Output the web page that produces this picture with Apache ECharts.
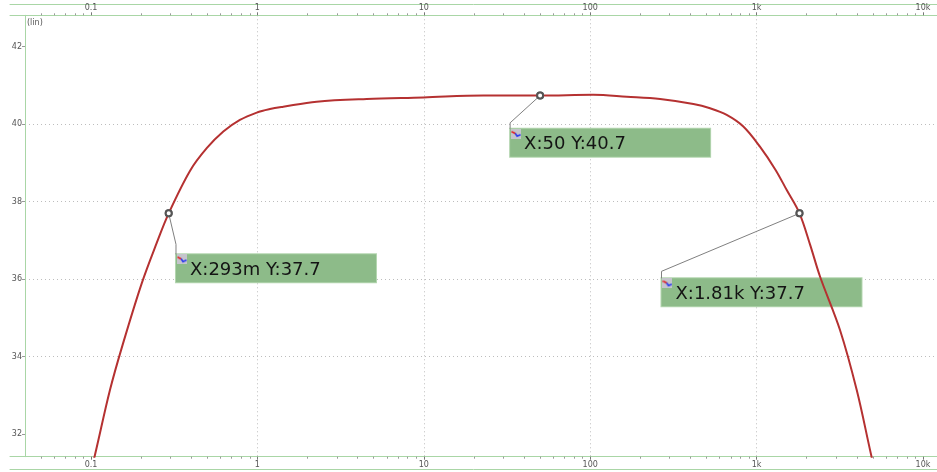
<!DOCTYPE html>
<html><head><meta charset="utf-8">
<script src="https://cdn.jsdelivr.net/npm/echarts@6/dist/echarts.min.js"></script>
<style>html,body{margin:0;padding:0;background:#fff}#c{width:937px;height:472px}</style>
</head><body><div id="c"></div>
<script>
// ---- data ----
const freq  = [0.1, 0.1057, 0.130, 0.156, 0.202, 0.248, 0.293, 0.394, 0.496, 0.624, 0.785, 0.991, 1.19, 1.43, 2.27, 4.54, 9.94, 22.8, 50, 104, 166, 263, 417, 525, 661, 832, 1047, 1300, 1517, 1810, 2100, 2404, 3170, 3996, 4806, 5200];
const level = [31.08, 31.47, 33.14, 34.35, 35.90, 36.93, 37.70, 38.80, 39.38, 39.81, 40.11, 40.30, 40.39, 40.45, 40.58, 40.65, 40.69, 40.74, 40.74, 40.76, 40.71, 40.65, 40.52, 40.41, 40.24, 39.94, 39.42, 38.82, 38.30, 37.70, 36.88, 36.07, 34.69, 33.14, 31.59, 30.93];

const annX = [0.293, 50, 1810];
const annY = [37.7, 40.74, 37.7];
const annText = ['X:293m Y:37.7', 'X:50 Y:40.7', 'X:1.81k Y:37.7'];

const decadeTicks  = [0.1, 1, 10, 100, 1000, 10000];
const decadeLabels = ['0.1', '1', '10', '100', '1k', '10k'];
const yMajorTicks  = [32, 34, 36, 38, 40, 42];

const xMin = Math.pow(10, -1.3966), xMax = Math.pow(10, 4.084);
const yMin = 31.42, yMax = 42.81;

// ---- layout / style ----
const annOffset = [[7.3, 41], [-30, 33.3], [-138, 65]];
const annElbow = [10, 6, 7];
const green = '#a9d6a6';
const gridLine = { type: [1, 3], color: '#bdbdbd', width: 1 };
const labelColor = '#555';

const xMinor = [];
for (let d = -2; d <= 3; d++) for (let k = 2; k <= 9; k++) xMinor.push(k * Math.pow(10, d));
const yMinor = [];
for (let v = 31.6; v < yMax; v += 0.4) yMinor.push(Math.round(v * 10) / 10);

function fmtX(v) {
  const i = decadeTicks.findIndex(t => Math.abs(Math.log10(t) - Math.log10(v)) < 1e-6);
  return i >= 0 ? decadeLabels[i] : '';
}
function makeIcon() {
  const c = document.createElement('canvas'); c.width = 10; c.height = 10;
  const g = c.getContext('2d');
  g.fillStyle = '#c4c4cc'; g.fillRect(0, 0, 10, 10);
  g.lineWidth = 1.6; g.lineCap = 'round';
  g.strokeStyle = '#e42020'; g.beginPath(); g.moveTo(1, 3); g.lineTo(4, 4.5); g.stroke();
  g.strokeStyle = '#2a3aee'; g.beginPath(); g.moveTo(4.5, 5); g.lineTo(6, 7.2); g.lineTo(9, 6); g.stroke();
  return c.toDataURL();
}
const icon = makeIcon();

const axisFont = { fontFamily: 'DejaVu Sans', fontSize: 8, color: labelColor };

function majorX(pos) {
  return {
    type: 'log', gridIndex: 0, position: pos, min: xMin, max: xMax,
    axisLine: { show: false },
    axisTick: { show: true, customValues: decadeTicks, length: 3, lineStyle: { color: '#777' } },
    axisLabel: Object.assign({ show: true, customValues: decadeTicks, formatter: fmtX, margin: pos === 'top' ? 3 : 4 }, axisFont),
    splitLine: { show: pos === 'bottom', showMinLine: false, showMaxLine: false, lineStyle: gridLine },
    minorTick: { show: false }
  };
}
function minorX(pos) {
  return {
    type: 'log', gridIndex: 0, position: pos, min: xMin, max: xMax,
    axisLine: { show: false },
    axisTick: { show: true, customValues: xMinor, length: 2, lineStyle: { color: '#9a9a9a' } },
    axisLabel: { show: false }, splitLine: { show: false }
  };
}
function frameX(pos, offset) {
  return {
    type: 'value', gridIndex: 1, position: pos, offset: offset, min: 0, max: 1,
    axisLine: { show: true, lineStyle: { color: green, width: 1 } },
    axisTick: { show: false }, axisLabel: { show: false }, splitLine: { show: false }
  };
}

const chart = echarts.init(document.getElementById('c'), null, { renderer: 'canvas' });
const option = {
  animation: false,
  backgroundColor: '#fff',
  grid: [
    { left: 25, right: 0, top: 15.3, bottom: 15.3, containLabel: false },
    { left: 10, right: 0, top: 15.3, bottom: 15.3, containLabel: false }
  ],
  xAxis: [
    majorX('bottom'), majorX('top'), minorX('bottom'), minorX('top'),
    frameX('bottom', 0), frameX('top', 0), frameX('bottom', 12.6), frameX('top', 11.3)
  ],
  yAxis: [
    {
      type: 'value', gridIndex: 0, min: yMin, max: yMax,
      name: '(lin)', nameLocation: 'end', nameGap: -4,
      nameTextStyle: { fontFamily: 'DejaVu Sans', fontSize: 8, color: labelColor, align: 'left', verticalAlign: 'top', padding: [0, 0, 0, 2] },
      axisLine: { show: true, lineStyle: { color: green } },
      axisTick: { show: true, customValues: yMajorTicks, length: 3, lineStyle: { color: '#999' } },
      axisLabel: Object.assign({ customValues: yMajorTicks, margin: 3 }, axisFont),
      splitLine: { show: true, showMinLine: false, showMaxLine: false, lineStyle: gridLine }
    },
    {
      type: 'value', gridIndex: 0, min: yMin, max: yMax,
      axisLine: { show: false },
      axisTick: { show: true, customValues: yMinor, length: 2, inside: false, lineStyle: { color: '#9a9a9a' } },
      axisLabel: { show: false }, splitLine: { show: false }
    },
    { type: 'value', gridIndex: 1, show: false, min: 0, max: 1 }
  ],
  series: [
    {
      // annotation boxes (drawn beneath the curve, as in the reference)
      type: 'scatter', xAxisIndex: 0, yAxisIndex: 0,
      symbol: 'emptyCircle', symbolSize: 6,
      itemStyle: { color: '#555', borderWidth: 1, opacity: 1 },
      z: 2, silent: true,
      data: annX.map((x, i) => ({
        value: [x, annY[i]],
        label: {
          show: true, position: 'inside', align: 'left', verticalAlign: 'top',
          offset: annOffset[i],
          formatter: '{i|}{t|' + annText[i] + '}',
          width: 199, height: 28, padding: [0, 0, 0, 1],
          backgroundColor: '#8dbb89', borderColor: '#b4d6b0', borderWidth: 1,
          rich: {
            i: { width: 10, height: 10, backgroundColor: { image: icon }, verticalAlign: 'top', lineHeight: 28 },
            t: { fontFamily: 'DejaVu Sans', fontSize: 18, color: '#141414', padding: [3, 0, 0, 3], lineHeight: 28 }
          }
        }
      }))
    },
    {
      type: 'line', xAxisIndex: 0, yAxisIndex: 0,
      data: freq.map((f, i) => [f, level[i]]),
      showSymbol: false, smooth: 0.35, clip: true,
      lineStyle: { color: '#b53131', width: 2 },
      z: 3
    },
    {
      // markers on the curve
      type: 'scatter', xAxisIndex: 0, yAxisIndex: 0,
      symbol: 'emptyCircle', symbolSize: 6,
      itemStyle: { color: '#555', borderWidth: 1, opacity: 1 },
      z: 6, silent: true,
      data: annX.map((x, i) => [x, annY[i]])
    }
  ]
};
chart.setOption(option);

const lines = annX.map((x, i) => {
  const p = chart.convertToPixel({ xAxisIndex: 0, yAxisIndex: 0 }, [x, annY[i]]);
  const bx = p[0] + annOffset[i][0], by = p[1] + annOffset[i][1];
  return {
    type: 'polyline', z: 4, silent: true,
    shape: { points: [p, [bx, by - annElbow[i]], [bx, by]] },
    style: { stroke: '#808080', lineWidth: 1, fill: null }
  };
});
chart.setOption({ graphic: lines });
</script>
</body></html>
